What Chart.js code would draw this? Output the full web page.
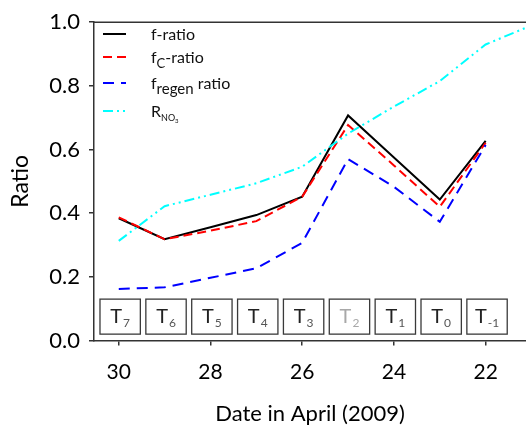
<!DOCTYPE html>
<html><head><meta charset="utf-8">
<script src="https://cdn.jsdelivr.net/npm/chart.js@4/dist/chart.umd.min.js"></script>
<style>html,body{margin:0;padding:0;background:#fff}#wrap{width:526px;height:427px;position:relative}</style>
</head><body><div id="wrap"><canvas id="c" width="526" height="427"></canvas></div>
<script>
// ---- data ----
const days = [30, 29, 28, 27, 26, 25, 24, 23, 22];
const fRatio      = [0.384, 0.318, 0.356, 0.394, 0.452, 0.707, 0.575, 0.443, 0.627];
const fcRatio     = [0.387, 0.318, 0.345, 0.375, 0.452, 0.677, 0.550, 0.420, 0.621];
const fRegenRatio = [0.162, 0.167, 0.197, 0.227, 0.307, 0.570, 0.483, 0.373, 0.614];
const rDays = [30, 29, 28, 27, 26, 25, 24, 23, 22, 21];
const rNO3  = [0.313, 0.422, 0.458, 0.494, 0.546, 0.650, 0.735, 0.815, 0.930, 0.990];
const xTickValues = [30, 28, 26, 24, 22];
const yTickValues = [0.0, 0.2, 0.4, 0.6, 0.8, 1.0];
const periodDays = [30, 29, 28, 27, 26, 25, 24, 23, 22];
const periodSubs = ['7', '6', '5', '4', '3', '2', '1', '0', '-1'];
const fadedPeriod = '2';

const FONT = 'Lato, "Open Sans", sans-serif';
const pts = (xs, ys) => xs.map((x, i) => ({x: x, y: ys[i]}));

const styles = {
  f:     {color: '#000000', width: 2,   dash: []},
  fc:    {color: '#ff0000', width: 2,   dash: [9, 5]},
  regen: {color: '#0000ff', width: 2,   dash: [11, 7]},
  r:     {color: '#00ffff', width: 2,   dash: [10, 4, 2, 4, 2, 4]}
};

const datasets = [
  {key: 'r', data: pts(rDays, rNO3), order: 0},
  {key: 'regen', data: pts(days, fRegenRatio), order: 1},
  {key: 'fc', data: pts(days, fcRatio), order: 2},
  {key: 'f', data: pts(days, fRatio), order: 3}
].map(d => ({
  data: d.data, order: d.order,
  borderColor: styles[d.key].color, borderWidth: styles[d.key].width,
  borderDash: styles[d.key].dash, pointRadius: 0, fill: false, tension: 0
}));

const framePlugin = {
  id: 'frame',
  afterDraw(chart) {
    const ctx = chart.ctx, a = chart.chartArea;
    ctx.save();
    ctx.strokeStyle = '#333'; ctx.lineWidth = 1.5;
    ctx.beginPath(); ctx.moveTo(a.left, a.top); ctx.lineTo(a.right, a.top); ctx.stroke();
    ctx.restore();
  }
};

const periodPlugin = {
  id: 'periods',
  afterDatasetsDraw(chart) {
    const ctx = chart.ctx, xs = chart.scales.x, ys = chart.scales.y;
    const step = Math.abs(xs.getPixelForValue(29) - xs.getPixelForValue(30));
    const w = step * 0.88;
    const top = ys.getPixelForValue(0.13), bot = ys.getPixelForValue(0.02);
    ctx.save();
    periodDays.forEach((d, i) => {
      const cx = xs.getPixelForValue(d) + 1.4;
      ctx.fillStyle = '#fff';
      ctx.fillRect(cx - w / 2, top, w, bot - top);
      ctx.strokeStyle = '#3a3a3a'; ctx.lineWidth = 1.3;
      ctx.strokeRect(cx - w / 2, top, w, bot - top);
      const faded = periodSubs[i] === fadedPeriod;
      ctx.font = '20px ' + FONT;
      const tw = ctx.measureText('T').width;
      ctx.font = '12px ' + FONT;
      const sw = ctx.measureText(periodSubs[i]).width;
      const x0 = cx - (tw + sw + 1) / 2;
      const base = (top + bot) / 2 + 6.5;
      ctx.textBaseline = 'alphabetic'; ctx.textAlign = 'left';
      ctx.fillStyle = faded ? '#a8a8a8' : '#222';
      ctx.font = '20px ' + FONT;
      ctx.fillText('T', x0, base);
      ctx.fillStyle = faded ? '#a8a8a8' : '#555';
      ctx.font = '12px ' + FONT;
      ctx.fillText(periodSubs[i], x0 + tw + 1, base + 4);
    });
    ctx.restore();
  }
};

const legendPlugin = {
  id: 'customLegend',
  afterDraw(chart) {
    const ctx = chart.ctx;
    const rows = [
      {key: 'f', y: 34, parts: [['f', 16, 0], ['-ratio', 16, 0]]},
      {key: 'fc', y: 57, parts: [['f', 16, 0], ['C', 13, 5], ['-ratio', 16, 0]]},
      {key: 'regen', y: 83, parts: [['f', 16, 0], ['regen', 15, 5], [' ratio', 16, 0]]},
      {key: 'r', y: 111, parts: [['R', 16, 0], ['NO', 9, 4], ['3', 6, 6]]}
    ];
    ctx.save();
    rows.forEach(r => {
      const s = styles[r.key];
      ctx.strokeStyle = s.color; ctx.lineWidth = s.width; ctx.setLineDash(s.dash);
      ctx.beginPath(); ctx.moveTo(103, r.y); ctx.lineTo(126, r.y); ctx.stroke();
      ctx.setLineDash([]);
      let x = 151;
      ctx.fillStyle = '#111'; ctx.textBaseline = 'alphabetic'; ctx.textAlign = 'left';
      r.parts.forEach(p => {
        ctx.font = p[1] + 'px ' + FONT;
        ctx.fillText(p[0], x, r.y + 5.5 + p[2]);
        x += ctx.measureText(p[0]).width;
      });
    });
    ctx.restore();
  }
};

new Chart(document.getElementById('c'), {
  type: 'line',
  data: {datasets: datasets},
  plugins: [framePlugin, periodPlugin, legendPlugin],
  options: {
    responsive: false, animation: false, devicePixelRatio: 1,
    layout: {padding: {top: 22, right: 0, left: 0, bottom: 0}},
    plugins: {legend: {display: false}, tooltip: {enabled: false}},
    scales: {
      x: {
        type: 'linear', reverse: true, min: 21.12, max: 30.54,
        afterBuildTicks: s => { s.ticks = xTickValues.map(v => ({value: v})); },
        afterFit: s => { s.height = 86.5; },
        ticks: {font: {family: FONT, size: 21}, color: '#000', padding: 14, maxRotation: 0, autoSkip: false,
                callback: v => String(v)},
        grid: {drawOnChartArea: false, drawTicks: true, tickLength: 5, color: '#333', lineWidth: 1.5},
        border: {color: '#333', width: 1.5},
        title: {display: true, text: 'Date in April (2009)', font: {family: FONT, size: 22}, color: '#000',
                padding: {top: 0, bottom: 0}}
      },
      y: {
        min: 0, max: 1,
        afterBuildTicks: s => { s.ticks = yTickValues.map(v => ({value: v})); },
        afterFit: s => { s.width = 94; },
        ticks: {font: {family: FONT, size: 22}, color: '#000', padding: 9, callback: v => Number(v).toFixed(1)},
        grid: {drawOnChartArea: false, drawTicks: true, tickLength: 5, color: '#333', lineWidth: 1.5},
        border: {color: '#333', width: 1.5},
        title: {display: true, text: 'Ratio', font: {family: FONT, size: 23}, color: '#000',
                padding: {top: 7, bottom: 0}}
      }
    }
  }
});
</script></body></html>
